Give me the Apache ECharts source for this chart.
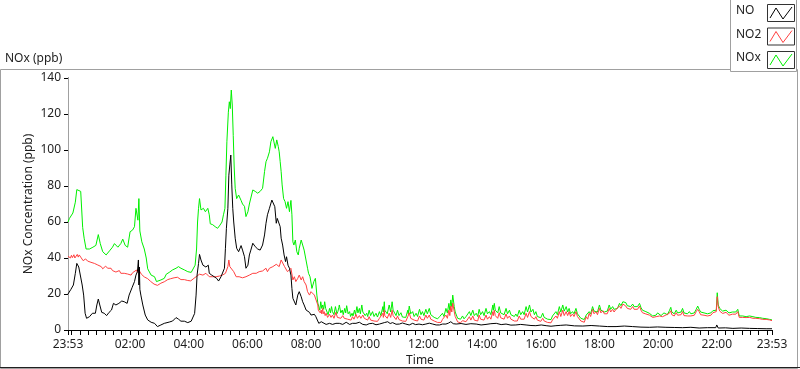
<!DOCTYPE html>
<html><head><meta charset="utf-8">
<script src="https://cdn.jsdelivr.net/npm/echarts@6/dist/echarts.min.js"></script>
<style>html,body{margin:0;padding:0;background:#fff}#c{width:800px;height:369px}</style>
</head><body><div id="c"></div>
<script>
// Time axis: minutes elapsed since 23:53 (start of record), 0..1440
const timeLabels = ['23:53','02:00','04:00','06:00','08:00','10:00','12:00','14:00','16:00','18:00','20:00','22:00','23:53'];
const yTicks = [0,20,40,60,80,100,120,140];
const seriesNames = ['NO','NO2','NOx'];
const seriesColors = ['#000000','#ff4040','#00f000'];

// [minutes since 23:53, ppb]
const noxData = [[0,60],[3,62],[10,65],[15,71],[18,78],[21,79],[26,77],[28,78],[30,57],[33,51],[37,45],[44,45],[51,46],[57,47],[62,53],[66,48],[71,43.5],[78,41.7],[85,44],[91,46],[95,48],[102,46],[108,48],[112,50.5],[117,47],[122,46],[127,54.6],[132,55.5],[136,57.4],[139,67.6],[143,61],[145,73],[147,55],[151,49],[156,45],[160,40],[163,34],[170,30.5],[177,29.6],[181,26.9],[190,27.8],[197,28.7],[201,31],[207,32],[214,33.4],[221,34.3],[226,35.2],[231,34.3],[238,33.4],[245,32.4],[252,32],[256,32.4],[260,36],[263,45],[265,60],[267,67.6],[269,73],[272,66.7],[277,67.6],[281,65.7],[286,67.6],[289,64],[291,59],[296,58.5],[301,57.4],[306,56.5],[311,58.3],[315,60],[318,64],[321,67.6],[323,86],[325,104.6],[328,121],[330,126.8],[332,123],[334,133.3],[336,125],[338,108],[340,90],[342,78.7],[345,73],[349,75],[354,72],[357,70],[361,68.7],[364,63],[368,65.7],[371,70],[374,70],[378,77.8],[383,77],[388,76],[393,77],[398,78.7],[402,88],[405,93.5],[408,95.4],[412,99],[415,104.6],[419,107.4],[421,108.3],[424,100.9],[427,105.6],[430,102],[432,99],[434,93.5],[436,88],[438,80.6],[441,73],[444,71.3],[447,67.6],[450,71.3],[453,65.7],[456,72],[458,64],[460,49],[462,47.2],[465,50],[468,43.5],[471,41.7],[473,45.4],[477,50],[480,47.2],[483,44.4],[487,45.4],[490,34.3],[492,31.5],[495,29.6],[499,23.1],[503,27],[506,28.7],
[509,19.4],[511,15],[513,13.9],[515,11],[517,15.7],[519,12],[521,13.9],[523,11.5],[525,15.7],[527,12],[529,11.1],[532,8.5],[535,12],[537,9.5],[539,13],[541,10.2],[544,8.5],[547,13],[550,9],[552,10.2],[554,12.5],[555,13.9],[558,9.5],[561,11.1],[563,8.5],[566,12],[568,9.5],[570,13.5],[573,9],[576,10.2],[578,7.5],[581,9.3],[583,7.8],[586,11.1],[588,8.5],[591,13],[593,9.5],[596,12],[598,9],[601,13.9],[603,10],[606,11.1],[608,8],[611,9.3],[613,7.5],[616,11],[619,8],[623,10.2],[626,7.5],[630,9.3],[633,7.2],[637,10.2],[640,8],[644,13],[645,10],[647,15.7],[648,11],[650,12],[653,9],[657,13.9],[660,10],[663,15.7],[665,11],[668,10.2],[671,8],[674,11],[677,8],[681,9.6],[684,7.2],[688,8.3],[691,7],[695,11],[696,9],[698,13.3],[701,9],[705,10.2],[708,7.5],[712,9.3],[715,7.5],[719,11.5],[722,8.5],[725,10.2],[728,8],[732,11.5],[735,9],[739,12],[742,8.5],[746,9.6],[749,7],[753,7.8],[756,6.2],[760,7.4],[763,6.5],[766,9.3],[769,7.5],[773,12],[776,9.5],[779,14.8],[781,11],[783,16.7],[785,13],[787,19.4],[790,13],[792,10],[794,9.3],[797,6.5],[800,7.4],[803,6],[807,7.8],[810,6.2],[814,7.4],[817,8],[821,10.2],[824,8],[828,11],[831,8],[835,9.3],[838,7.5],[841,11.5],[844,8.5],[848,10.2],[851,8],[855,12],[858,9],[862,10.2],[865,8.5],[869,13.9],[870,11],[872,14.8],[874,11],[876,12],[879,9.5],[882,13],[885,9.5],[889,10.2],[892,8.5],[896,12],[899,9],[903,11],[906,8.5],[910,9.6],[913,7.5],[916,8.9],[919,7.5],[923,11],[926,8.5],[930,10.2],[933,8.5],[937,13],[940,10],[944,13.9],[947,10],[951,11.5],[954,8.5],[957,10.2],[960,7.5],[964,8.3],[967,6.8],[971,9.3],[974,7],[978,7.4],[981,6],[985,6.5],[988,5.8],[991,7.8],[994,7],[998,10.2],[1001,8.5],[1005,13],[1008,10],[1012,13.9],[1015,10.5],[1019,13],[1022,10],[1025,12],[1028,9],[1032,10.2],[1035,9],[1039,12],[1042,9],[1046,8.3],[1049,6.5],[1053,6.5],[1056,5.8],[1060,8.3],[1063,7.5],[1066,10.2],[1069,9],[1073,13],[1076,10.5],[1080,11.5],[1083,10],[1087,13.9],[1090,11],[1094,12],[1097,10],[1100,11],[1103,10.5],[1107,13.9],[1110,11.5],[1114,13],[1117,11.5],[1121,12.6],[1124,12],[1128,14.8],[1131,13.5],[1135,15.7],[1138,16.7],[1141,15.2],[1144,13.5],[1148,13.9],[1151,13],[1155,14.4],[1158,13],[1162,13.9],[1165,13],[1169,14.8],[1172,12.5],[1175,11],[1178,10],[1182,10.2],[1185,9.5],[1189,9.3],[1192,8.5],[1196,7.8],[1199,8.5],[1203,8.3],[1206,9.5],[1210,8.9],[1213,8],[1216,8.3],[1219,9.5],[1223,9.3],[1226,8.5],[1230,10.7],[1233,12.6],[1235,10],[1237,10.2],[1240,9],[1244,11],[1247,9.5],[1251,8.9],[1254,10],[1257,12],[1260,9.5],[1264,10.2],[1267,9],[1271,10.2],[1274,9],[1278,9.3],[1281,9.5],[1285,11.5],[1288,13.3],[1291,11.5],[1294,10],[1298,8.9],[1301,9.5],[1305,9.6],[1308,9],[1312,9.3],[1315,9.5],[1319,10.7],[1322,10],[1326,11],[1328,20.7],[1330,13.9],[1333,12],[1336,11.5],[1339,10.5],[1343,10.2],[1346,11],[1349,10.2],[1352,9.5],[1356,9.3],[1359,10],[1363,9.3],[1366,10],[1370,11.5],[1373,7.8],[1380,7.8],[1387,7.4],[1394,7.8],[1401,7.4],[1407,7],[1414,6.9],[1421,6.5],[1428,6.3],[1435,5.9],[1440,5.6]];

const no2Data = [[0,41],[3,42],[5,40],[7,41.5],[9,40.2],[12,41.8],[14,40],[16,40.7],[19,42],[21,40.5],[23,41.7],[26,40.5],[29,40],[31,38.5],[33,38.9],[36,39.5],[40,38.3],[43,37.2],[47,37.6],[50,38.5],[54,37],[57,36],[61,36.1],[64,35],[68,35.2],[71,34],[74,34.6],[77,35.5],[81,34.3],[84,33.5],[88,34.3],[91,33],[95,33.3],[98,32.2],[102,32.4],[105,33],[108,31.5],[111,32.5],[115,31.5],[118,30.5],[122,31.1],[125,30.2],[129,30.5],[132,31.8],[136,31.5],[140,33.3],[142,32],[145,33.9],[147,32.4],[150,31],[153,30.5],[156,29.5],[160,29],[163,28.5],[166,27.8],[169,27],[173,26.9],[176,25.5],[180,25],[183,24.8],[187,25.4],[190,26],[194,26],[197,26.8],[200,27.2],[204,28],[207,27.2],[210,28.5],[214,28.3],[217,29],[221,28.2],[224,29.3],[228,29],[231,28],[235,28.8],[238,28],[241,28.3],[245,27.5],[248,28.2],[251,27.3],[255,27.8],[262,29.6],[269,31],[276,30.5],[282,31.5],[289,29.6],[296,29.6],[303,29.6],[310,30],[316,30.5],[322,31.5],[327,35.2],[329,38.9],[331,35.2],[335,34.3],[339,32.4],[344,29.6],[350,29.6],[357,29],[364,29.6],[371,30.5],[378,31.5],[385,31.5],[391,32.4],[398,32.8],[405,34.3],[408,32.4],[412,34.3],[419,35.2],[426,36.5],[432,35.2],[436,38.9],[439,40],[443,35.2],[446,34.3],[449,32.4],[453,33.3],[456,34.3],[460,27.8],[463,29.6],[466,26.9],[470,28.7],[473,30.5],[477,27.8],[480,29.6],[483,26.9],[487,25],[490,21.3],[494,19.4],[497,21.3],[501,20.4],[504,19.4],[507,18.5],
[511,13.9],[512,11],[514,12],[516,9.5],[518,11.1],[519,9],[521,12],[522,9],[524,10.2],[526,8],[528,9.3],[531,7],[535,8.7],[538,7],[541,8.3],[544,6.5],[548,9.8],[551,7],[555,7.4],[558,6.5],[562,8],[565,6.5],[569,7.4],[572,6],[576,6.9],[579,5.5],[582,7.4],[585,6],[589,8.7],[592,6.5],[596,8],[599,6.5],[603,8.3],[606,6.5],[610,6.9],[613,5.5],[616,7.4],[619,5.5],[623,6.5],[626,5],[630,5.6],[633,4.8],[637,6.5],[640,5.5],[644,9.3],[645,7],[647,11],[648,8],[650,8.3],[653,6.5],[657,9.3],[660,7],[663,11],[665,8],[668,7.4],[671,5.8],[674,7.8],[677,5.8],[681,6.5],[684,5],[688,5.6],[691,4.8],[695,7.4],[696,6.5],[698,9.6],[701,6.5],[705,7.4],[708,5.5],[712,5.9],[715,5],[719,7.8],[722,6],[725,6.5],[728,5.5],[732,8.3],[735,6.5],[739,8.3],[742,6],[746,6.5],[749,5],[753,5.2],[756,4.2],[760,4.6],[763,4.2],[766,5.9],[769,5],[773,8.3],[776,6.5],[779,11],[781,8],[783,13.3],[785,10],[787,15],[790,10.2],[792,7.5],[794,6.5],[797,4.5],[800,4.6],[803,4],[807,5.2],[810,4.2],[814,4.6],[817,5.5],[821,7.4],[824,5.5],[828,7.8],[831,5.5],[835,5.9],[838,5],[841,8.3],[844,6],[848,7],[851,5.5],[855,8.3],[858,6],[862,7.4],[865,6],[869,10.2],[870,8],[872,11],[874,8],[876,8.3],[879,6.5],[882,9.6],[885,6.8],[889,7.4],[892,6],[896,8.9],[899,6.5],[903,7.8],[906,6],[910,6.5],[913,5],[916,5.6],[919,5],[923,7.8],[926,6],[930,7],[933,6],[937,9.3],[940,7],[944,10.2],[947,7.5],[951,8.3],[954,6],[957,7.4],[960,5.5],[964,5.6],[967,4.8],[971,6.5],[974,5],[978,5.2],[981,4.2],[985,4.1],[988,4],[991,5.6],[994,5],[998,7.8],[1001,6.5],[1005,10.2],[1008,7.5],[1012,11],[1015,8],[1019,10.2],[1022,8],[1025,10.2],[1028,7.5],[1032,8.9],[1035,7.5],[1039,10.2],[1042,7.5],[1046,6.5],[1049,5],[1053,4.6],[1056,4.3],[1060,7.4],[1063,6],[1066,9.3],[1069,7.5],[1073,11.5],[1076,9],[1080,10.2],[1083,8.5],[1087,12],[1090,9.5],[1094,10.7],[1097,9],[1100,9.6],[1103,9],[1107,12],[1110,10],[1114,11.5],[1117,10],[1121,11.5],[1124,10.5],[1128,13.3],[1131,12],[1135,14.4],[1138,14.8],[1141,13.3],[1144,12],[1148,12.6],[1151,11.5],[1155,13],[1158,11.5],[1162,12.6],[1165,11.5],[1169,13.3],[1172,11],[1175,9.6],[1178,8.8],[1182,8.9],[1185,8.2],[1189,8.3],[1192,7.2],[1196,7],[1199,7.5],[1203,7.4],[1206,8.3],[1210,7.8],[1213,7],[1216,7.4],[1219,8.3],[1223,8.3],[1226,7.5],[1230,9.3],[1233,10.7],[1235,8.5],[1237,8.9],[1240,7.8],[1244,9.6],[1247,8.2],[1251,7.4],[1254,8.5],[1257,10.2],[1260,8],[1264,8.9],[1267,7.8],[1271,8.9],[1274,7.8],[1278,7.8],[1281,8.2],[1285,10.2],[1288,11.5],[1291,10.2],[1294,8.5],[1298,7.8],[1301,8.2],[1305,8.3],[1308,7.8],[1312,8.3],[1315,8.2],[1319,9.6],[1322,8.8],[1326,10.2],[1328,18.5],[1330,13],[1333,10.5],[1336,10.7],[1339,9.2],[1343,9.3],[1346,9.8],[1349,9.3],[1352,8.2],[1356,8.3],[1359,8.8],[1363,8.3],[1366,8.8],[1370,10.2],[1373,7],[1380,7],[1387,6.9],[1394,7],[1401,6.5],[1407,6.5],[1414,6.3],[1421,5.9],[1428,5.9],[1435,5.6],[1440,5.2]];

const noData = [[0,20],[6,22.6],[11,25],[15,31.5],[18,37],[22,35],[26,36],[29,25],[32,19.4],[35,9.3],[38,6.5],[44,7.4],[50,9.3],[56,9.3],[59,13.9],[62,17.2],[65,13.9],[69,9.8],[74,9.3],[79,8],[84,9.8],[89,11.1],[93,14.8],[98,13.9],[104,14.8],[110,16.1],[115,15.7],[121,14.8],[125,19.4],[131,23.5],[136,26.9],[139,30.5],[142,32.4],[144,38.9],[145,25],[146,35],[147,22.6],[149,19.4],[153,13.9],[158,8.3],[163,5.6],[170,4.3],[177,3.7],[183,1.9],[190,2.8],[197,3.7],[200,3.7],[207,4.4],[214,5],[221,6.9],[226,6],[231,4.9],[238,4.9],[245,4.1],[252,4.9],[256,4.9],[259,9.2],[262,19.4],[264,30.5],[267,37],[269,42],[272,38.9],[276,36],[279,37],[282,35],[287,36],[289,31.5],[294,30.5],[299,29.6],[304,28.7],[308,27.2],[313,29.6],[316,30.5],[320,34.3],[322,45.4],[324,56.5],[327,67.6],[329,86],[331,91.7],[333,97.2],[335,80.6],[337,67.6],[339,60],[342,51],[345,45.4],[349,43.5],[354,46.9],[357,44.4],[361,40.7],[364,34.3],[368,36],[371,41.7],[374,44.4],[378,48.2],[383,46.3],[388,45],[393,44.4],[398,47.2],[402,52.8],[405,59.3],[408,64],[412,67.6],[415,68.5],[417,72.2],[420,73],[423,68.5],[426,59.3],[428,62],[431,63],[434,57.4],[436,51],[439,47.2],[442,41.7],[445,38],[447,40.7],[450,36],[453,34.3],[456,30.5],[458,23.1],[460,17.6],[463,18.5],[466,13.9],[470,19.4],[473,21.3],[477,18.5],[480,15.7],[483,13.9],[487,11.1],[490,12],[494,9.8],[497,8.3],[501,8.3],[504,8.7],[507,7.4],[513,3.7],[518,4.6],[522,3.7],[528,3.1],[535,3.7],[541,3.1],[548,3.7],[555,3.7],[562,3.1],[569,4.3],[576,3.1],[582,3.7],[589,3.7],[596,4.3],[603,3.1],[610,2.8],[616,3.5],[623,3.7],[630,2.9],[637,3.3],[647,4.1],[654,4.6],[659,3.6],[664,4.1],[671,3.2],[678,3.3],[684,3.9],[691,3.3],[698,2.8],[705,3.7],[711,3],[718,3.3],[725,2.9],[732,3.3],[739,3.8],[746,3.3],[753,2.8],[760,2.8],[766,3.3],[773,3.3],[778,3.8],[783,4.6],[788,3.5],[794,3.3],[804,3.6],[814,3.1],[824,3.5],[835,3.3],[845,2.8],[855,3.1],[865,3.5],[876,3.7],[886,3],[896,3.3],[906,2.7],[916,2.8],[926,3.1],[937,2.8],[947,2.5],[957,2.4],[968,2.8],[978,2.4],[988,2.1],[998,2.4],[1008,2.6],[1019,2.8],[1036,2.3],[1053,2.2],[1070,2.5],[1087,2.2],[1104,1.9],[1121,1.9],[1138,2.2],[1155,1.9],[1172,1.6],[1189,1.5],[1206,1.7],[1223,1.5],[1240,1.4],[1257,1.3],[1274,1.5],[1291,1.1],[1308,1.3],[1325,1.3],[1327,2.8],[1330,1.1],[1345,1.2],[1360,0.9],[1377,1.1],[1394,0.9],[1411,0.8],[1428,0.7],[1440,0.7]];

const START = 23*60+53, SPAN = 1440;
function toOffset(s, i){const [h,m]=s.split(':').map(Number);let v=h*60+m-START;if(v<0)v+=1440;if(i>0&&v===0)v=SPAN;return v;}
const labelVals = timeLabels.map(toOffset);
// minor ticks every 2h/7 from 00:00 plus ends
const tickVals = [0];
for(let k=0;;k++){const v=7+k*120/7;if(v>SPAN)break;tickVals.push(v);}
tickVals.push(SPAN);
function fmt(v){const m=(Math.round(v)+START)%1440;return String(Math.floor(m/60)).padStart(2,'0')+':'+String(m%60).padStart(2,'0');}

const font = 'Noto Sans';
const txt = '#1e1e1e';
const chart = echarts.init(document.getElementById('c'), null, {renderer:'canvas'});

const dataBySeries = {NO:noData, NO2:no2Data, NOx:noxData};
const drawOrder = ['NOx','NO2','NO'];

const legendEls = [];
seriesNames.forEach((n,i)=>{
  const cy = 13 + i*23.5;
  legendEls.push({type:'text', left:736, top:cy-8, style:{text:n, fill:txt, font:'12px '+font}});
  legendEls.push({type:'rect', shape:{x:767.5, y:cy-8.5, width:27, height:17}, style:{fill:'#fff', stroke:'#333', lineWidth:1}});
  legendEls.push({type:'polyline', shape:{points:[[770,cy+5],[776,cy-5],[783,cy+6],[792,cy-6]]}, style:{stroke:seriesColors[i], lineWidth:1, fill:null}});
});

chart.setOption({
  animation:false,
  backgroundColor:'#fff',
  grid:{left:68, right:28, top:78, bottom:39, outerBoundsMode:'none', containLabel:false},
  xAxis:[{
    type:'value', min:0, max:SPAN,
    name:'Time', nameLocation:'middle', nameGap:25, nameMoveOverlap:false,
    nameTextStyle:{color:txt, fontFamily:font, fontSize:12},
    axisLine:{show:true, lineStyle:{color:'#000', width:1}},
    axisTick:{show:true, length:5, inside:false, customValues:tickVals, lineStyle:{color:'#000'}},
    axisLabel:{customValues:labelVals, formatter:fmt, margin:9, color:txt, fontFamily:font, fontSize:12},
    splitLine:{show:false}
  },{
    type:'value', position:'top', min:0, max:SPAN,
    axisLine:{show:true, lineStyle:{color:'#000'}}, axisTick:{show:false}, axisLabel:{show:false}, splitLine:{show:false}
  }],
  yAxis:[{
    type:'value', min:yTicks[0], max:yTicks[yTicks.length-1], interval:20,
    name:'NOx Concentration (ppb)', nameLocation:'middle', nameGap:33, nameMoveOverlap:false,
    nameTextStyle:{color:txt, fontFamily:font, fontSize:12},
    axisLine:{show:true, lineStyle:{color:'#000'}},
    axisTick:{show:true, length:4, lineStyle:{color:'#000'}},
    axisLabel:{margin:7, color:txt, fontFamily:font, fontSize:12},
    splitLine:{show:false}
  },{
    type:'value', position:'right', min:0, max:140,
    axisLine:{show:true, lineStyle:{color:'#a0a0a0'}}, axisTick:{show:false}, axisLabel:{show:false}, splitLine:{show:false}
  }],
  series: drawOrder.map(n=>({
    name:n, type:'line', data:dataBySeries[n], showSymbol:false, symbol:'none',
    lineStyle:{color:seriesColors[seriesNames.indexOf(n)], width:1}, itemStyle:{color:seriesColors[seriesNames.indexOf(n)]},
    z:2
  })),
  graphic:[
    {type:'text', left:5, top:53, style:{text:'NOx (ppb)', fill:txt, font:'12px '+font}},
    {type:'rect', shape:{x:0.5, y:69.5, width:797, height:299}, style:{fill:null, stroke:'#a0a0a0', lineWidth:1}, z:-1},
    {type:'line', shape:{x1:0, y1:367.5, x2:800, y2:367.5}, style:{stroke:'#202020', lineWidth:1}},
    {type:'rect', shape:{x:730.5, y:-1, width:66, height:72.5}, style:{fill:'#fff', stroke:'#a0a0a0', lineWidth:1}},
    ...legendEls
  ]
});
</script></body></html>
